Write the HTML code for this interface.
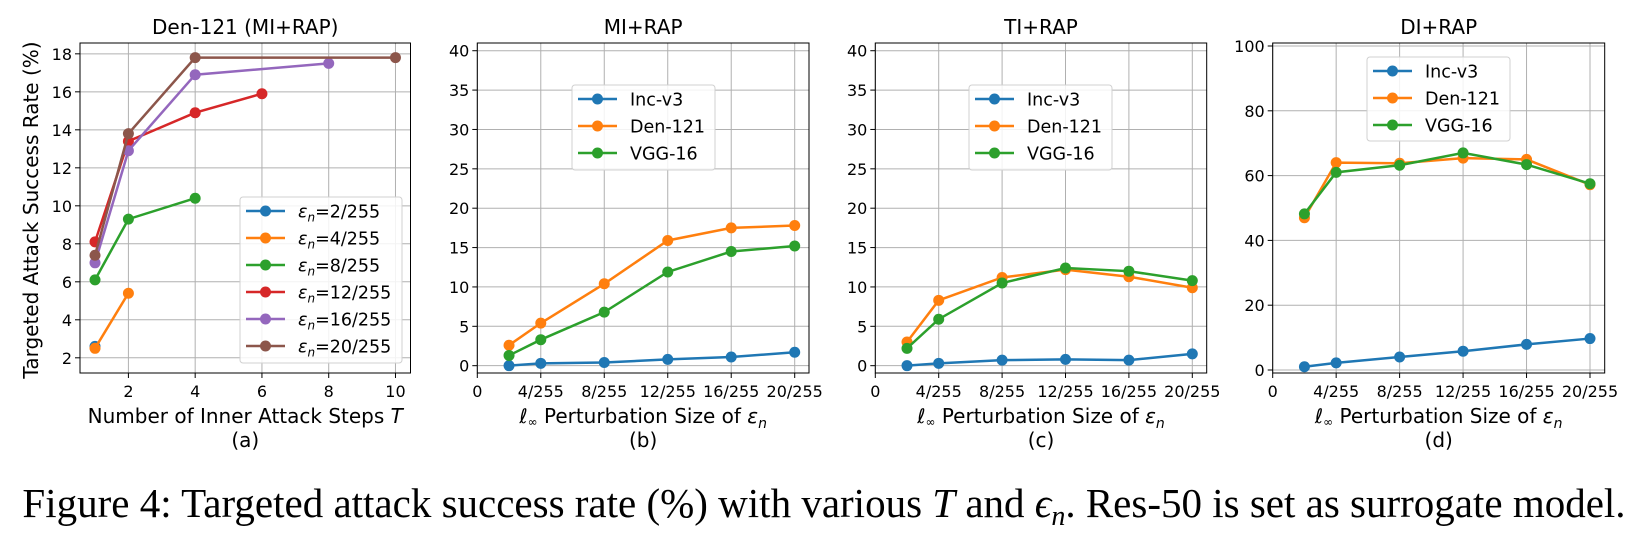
<!DOCTYPE html>
<html><head><meta charset="utf-8"><style>
html,body{margin:0;padding:0;background:#fff;}
svg{display:block;font-family:"DejaVu Sans","Liberation Sans",sans-serif;}
</style></head><body>
<svg id="fig" width="1648" height="539" viewBox="0 0 1648 539" xmlns="http://www.w3.org/2000/svg"></svg>
<script>
// ---- data ----
const aSteps2=[1], aVals2=[2.6];
const aSteps4=[1,2], aVals4=[2.5,5.4];
const aSteps8=[1,2,4], aVals8=[6.1,9.3,10.4];
const aSteps12=[1,2,4,6], aVals12=[8.1,13.4,14.9,15.9];
const aSteps16=[1,2,4,8], aVals16=[7.0,12.9,16.9,17.5];
const aSteps20=[1,2,4,10], aVals20=[7.4,13.8,17.8,17.8];
const aLegendLabels=["2/255","4/255","8/255","12/255","16/255","20/255"];
const aYTicks=[2,4,6,8,10,12,14,16,18];
const aXTicks=[2,4,6,8,10];

const epsCats=[2,4,8,12,16,20];
const epsTicks=[0,4,8,12,16,20];
const epsTickLabels=["0","4/255","8/255","12/255","16/255","20/255"];
const bInc=[0,0.3,0.4,0.8,1.1,1.7];
const bDen=[2.6,5.4,10.4,15.9,17.5,17.8];
const bVgg=[1.3,3.3,6.8,11.9,14.5,15.2];
const cInc=[0,0.3,0.7,0.8,0.7,1.5];
const cDen=[3.0,8.3,11.2,12.2,11.3,9.9];
const cVgg=[2.2,5.9,10.5,12.4,12.0,10.8];
const dInc=[1.0,2.2,4.0,5.8,7.9,9.7];
const dDen=[47,64,63.8,65.4,65,57.2];
const dVgg=[48.2,61,63.2,67,63.4,57.5];
const bcYTicks=[0,5,10,15,20,25,30,35,40];
const dYTicks=[0,20,40,60,80,100];
const modelNames=["Inc-v3","Den-121","VGG-16"];

const C=["#1f77b4","#ff7f0e","#2ca02c","#d62728","#9467bd","#8c564b"];
const NS="http://www.w3.org/2000/svg";
const svg=document.getElementById('fig');
function el(t,a,p){const e=document.createElementNS(NS,t);for(const k in a)e.setAttribute(k,a[k]);(p||svg).appendChild(e);return e;}

function panel(o){
  const g=el('g',{});
  
  
  const X=v=>o.L+(v-o.x0)/(o.x1-o.x0)*(o.R-o.L);
  const Y=v=>o.B-(v-o.y0)/(o.y1-o.y0)*(o.B-o.T);
  o.xt.forEach((v,i)=>{
    const gl=el('line',{x1:X(v),x2:X(v),y1:o.T,y2:o.B,stroke:'#b0b0b0','stroke-width':1},g);
    
    
    el('line',{x1:X(v),x2:X(v),y1:o.B,y2:o.B+5,stroke:'#000','stroke-width':1},g);
    const t=el('text',{x:X(v),y:397,'font-size':16,'text-anchor':'middle',fill:'#000'},g);
    t.textContent=o.xl[i];
    
    
  });
  o.yt.forEach(v=>{
    const gl=el('line',{x1:o.L,x2:o.R,y1:Y(v),y2:Y(v),stroke:'#b0b0b0','stroke-width':1},g);
    
    
    el('line',{x1:o.L-5,x2:o.L,y1:Y(v),y2:Y(v),stroke:'#000','stroke-width':1},g);
    const t=el('text',{x:o.L-8,y:Y(v)+6,'font-size':16,'text-anchor':'end',fill:'#000'},g);
    t.textContent=v;
    
    
  });
  o.series.forEach((s,si)=>{
    const sg=el('g',{},g);
    
    
    const pts=s.x.map((xv,i)=>X(xv)+','+Y(s.y[i])).join(' ');
    el('polyline',{points:pts,fill:'none',stroke:s.c,'stroke-width':2.5},sg);
    s.x.forEach((xv,i)=>{
      const m=el('circle',{cx:X(xv),cy:Y(s.y[i]),r:5.5,fill:s.c},sg);
      
      
    });
  });
  const fr=el('rect',{x:o.L,y:o.T,width:o.R-o.L,height:o.B-o.T,fill:'none',stroke:'#000','stroke-width':1},g);
  
  
  const tt=el('text',{x:(o.L+o.R)/2,y:34,'font-size':20,'text-anchor':'middle',fill:'#000'},g);
  tt.textContent=o.title;
  
  
  const lg=el('g',{},g);
  
  
  el('rect',{x:o.lg.x,y:o.lg.y,width:o.lg.w,height:o.lg.h,rx:3,fill:'#fff','fill-opacity':0.85,stroke:'#d0d0d0'},lg);
  o.series.forEach((s,i)=>{
    const yy=o.lg.y+14+i*o.lg.step;
    el('line',{x1:o.lg.x+6,x2:o.lg.x+45,y1:yy,y2:yy,stroke:s.c,'stroke-width':2.5},lg);
    el('circle',{cx:o.lg.x+25.5,cy:yy,r:5.5,fill:s.c},lg);
    const t=el('text',{x:o.lg.x+58,y:yy+6.5,'font-size':17.5,fill:'#000'},lg);
    t.innerHTML=s.label;
    
    
  });
  const xl=el('text',{x:(o.L+o.R)/2,y:423,'font-size':20,'text-anchor':'middle',fill:'#000'},g);
  xl.innerHTML=o.xlabel;
  
  
  const sl=el('text',{x:(o.L+o.R)/2,y:447,'font-size':20,'text-anchor':'middle',fill:'#000'},g);
  sl.textContent=o.sub;
  
  
  return g;
}
const epsLab=n=>'<tspan font-style="italic">ε</tspan><tspan font-style="italic" font-size="12" dy="4">n</tspan><tspan dy="-4">='+n+'</tspan>';
const pertLab='<tspan font-style="italic">ℓ</tspan><tspan font-size="12" dy="3">∞</tspan><tspan dy="-3"> Perturbation Size of </tspan><tspan font-style="italic">ε</tspan><tspan font-style="italic" font-size="14" dy="5">n</tspan>';

const aX=[aSteps2,aSteps4,aSteps8,aSteps12,aSteps16,aSteps20];
const aY=[aVals2,aVals4,aVals8,aVals12,aVals16,aVals20];
panel({name:'panel-a',L:80,R:410.5,T:43,B:373,x0:0.55,x1:10.45,y0:1.2,y1:18.57,
  xt:aXTicks,xl:aXTicks.map(String),yt:aYTicks,title:'Den-121 (MI+RAP)',
  series:aX.map((x,i)=>({key:'eps-'+i,x:x,y:aY[i],c:C[i],label:epsLab(aLegendLabels[i])})),
  lg:{x:240,y:197,w:162,h:166,step:27},
  xlabel:'Number of Inner Attack Steps <tspan font-style="italic">T</tspan>',sub:'(a)'});
const yl=el('text',{x:0,y:0,'font-size':20,'text-anchor':'middle',fill:'#000',transform:'translate(38,210) rotate(-90)'});
yl.textContent='Targeted Attack Success Rate (%)';



function epsPanel(name,L,R,x20,yt,y0,y1,data,title,lg,sub){
  const x1=20*(R-L)/(x20-L);
  return panel({name:name,L:L,R:R,T:43,B:373,x0:0,x1:x1,y0:y0,y1:y1,
    xt:epsTicks,xl:epsTickLabels,yt:yt,title:title,
    series:data.map((d,i)=>({key:modelNames[i].toLowerCase(),x:epsCats,y:d,c:C[i],label:modelNames[i]})),
    lg:lg,xlabel:pertLab,sub:sub});
}
epsPanel('panel-b',477.3,809,794.7,bcYTicks,-0.93,40.98,[bInc,bDen,bVgg],'MI+RAP',{x:572,y:85,w:143,h:85,step:27},'(b)');
epsPanel('panel-c',875.3,1206.7,1192.3,bcYTicks,-0.93,40.98,[cInc,cDen,cVgg],'TI+RAP',{x:969,y:85,w:143,h:85,step:27},'(c)');
epsPanel('panel-d',1272.7,1604.7,1590,dYTicks,-0.93,100.93,[dInc,dDen,dVgg],'DI+RAP',{x:1367,y:57,w:143,h:84,step:27},'(d)');

const cap=el('text',{x:824,y:517,'font-size':41,'text-anchor':'middle',fill:'#000','font-family':'"Liberation Serif",serif'});
cap.innerHTML='Figure 4: Targeted attack success rate (%) with various <tspan font-style="italic">T</tspan> and <tspan font-style="italic">ϵ</tspan><tspan font-style="italic" font-size="28" dy="8">n</tspan><tspan dy="-8">. Res-50 is set as surrogate model.</tspan>';


</script>
</body></html>
